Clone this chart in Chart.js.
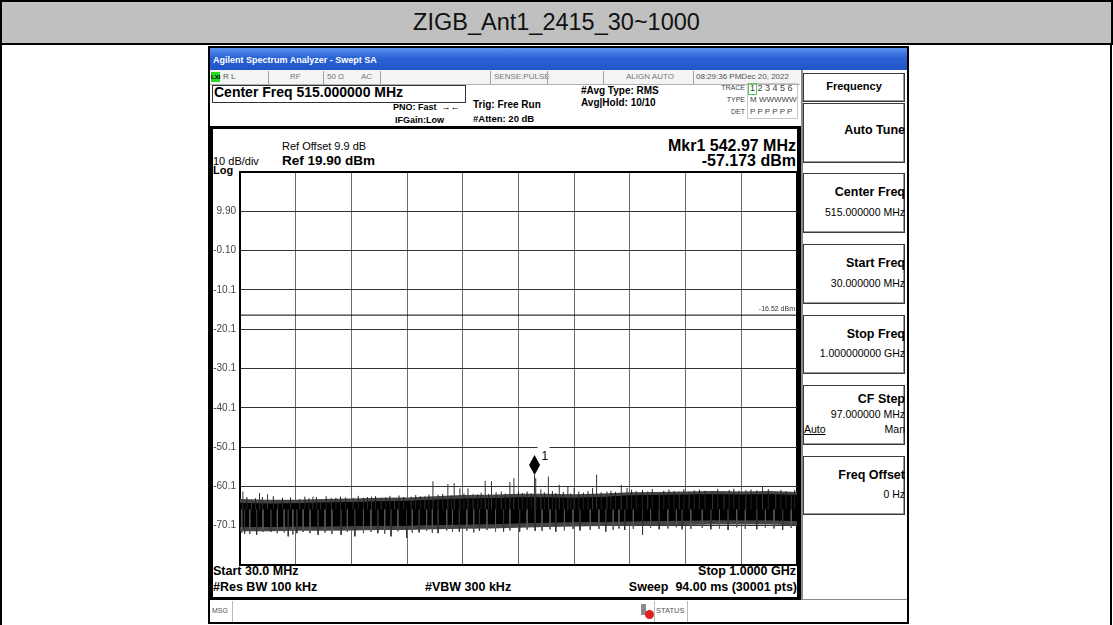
<!DOCTYPE html>
<html>
<head>
<meta charset="utf-8">
<script src="https://cdn.jsdelivr.net/npm/chart.js@4.4.0/dist/chart.umd.min.js"></script>
<style>
body{margin:0;width:1113px;height:625px;position:relative;background:#fff;overflow:hidden;font-family:"Liberation Sans",Arial,sans-serif;color:#000}
.a{position:absolute;white-space:pre;line-height:1.2}
.b{font-weight:bold}
.sep{position:absolute;top:71px;width:1px;height:13px;background:#a0a0a0}
.sk{position:absolute;left:803px;width:102px;box-sizing:border-box;border:1px solid #3a3a3a;background:#fff;box-shadow:inset -1px -1px 0 #9a9a9a}
#plotBox{position:absolute;left:200px;top:160px;width:600px;height:415px}
#plotBox canvas{display:block}
</style>
</head>
<body>
<!-- page frame + title -->
<div class="a" style="left:0;top:0;width:2px;height:625px;background:#000"></div>
<div class="a" style="left:1110px;top:0;width:2px;height:625px;background:#000"></div>
<div class="a" style="left:0;top:0;width:1113px;height:45px;box-sizing:border-box;border:2px solid #000;background:#c0c0c0;font-size:23.5px;line-height:41px;text-align:center;color:#111">ZIGB_Ant1_2415_30~1000</div>

<!-- analyzer screen frame -->
<div class="a" style="left:208px;top:46px;width:701px;height:578px;box-sizing:border-box;border:2px solid #000"></div>
<div class="a" style="left:210px;top:48px;width:697px;height:22px;background:linear-gradient(#5a92f0,#2a62d6 45%,#1f55c8)"></div>
<div class="a b" style="left:213px;top:55px;font-size:9px;color:#fff">Agilent Spectrum Analyzer - Swept SA</div>

<!-- status row -->
<div class="a" style="left:210px;top:70px;width:590px;height:14px;background:#f4f4f4;border-bottom:1px solid #b0b0b0"></div>
<div class="a b" style="left:211px;top:72px;width:9px;height:10px;background:#27d827;font-size:6px;line-height:10px;text-align:center">LXI</div>
<div class="a" style="left:223px;top:72px;font-size:8px;color:#555">R L</div>
<div class="sep" style="left:268px"></div>
<div class="a" style="left:290px;top:72px;font-size:8px;color:#777">RF</div>
<div class="sep" style="left:323px"></div>
<div class="a" style="left:327px;top:72px;font-size:8px;color:#777">50 Ω</div>
<div class="a" style="left:361px;top:72px;font-size:8px;color:#777">AC</div>
<div class="sep" style="left:380px"></div>
<div class="sep" style="left:490px"></div>
<div class="a" style="left:494px;top:72px;font-size:8px;color:#777">SENSE:PULSE</div>
<div class="sep" style="left:547px"></div>
<div class="sep" style="left:603px"></div>
<div class="a" style="left:626px;top:72px;font-size:8px;color:#777">ALIGN AUTO</div>
<div class="sep" style="left:693px"></div>
<div class="a" style="left:696px;top:72px;font-size:8px;color:#555">08:29:36 PMDec 20, 2022</div>

<!-- header info -->
<div class="a" style="left:212px;top:85px;width:254px;height:18px;box-sizing:border-box;border:1px solid #333"></div>
<div class="a b" style="left:214px;top:84px;font-size:14px">Center Freq 515.000000 MHz</div>
<div class="a b" style="left:393px;top:102px;font-size:9px">PNO: Fast  →←</div>
<div class="a b" style="left:395px;top:115px;font-size:9px">IFGain:Low</div>
<div class="a b" style="left:473px;top:99px;font-size:10px">Trig: Free Run</div>
<div class="a b" style="left:473px;top:113px;font-size:9.5px">#Atten: 20 dB</div>
<div class="a b" style="left:581px;top:85px;font-size:10px">#Avg Type: RMS</div>
<div class="a b" style="left:581px;top:97px;font-size:10px">Avg|Hold: 10/10</div>
<div class="a" style="right:368px;top:84px;font-size:7px;color:#444">TRACE</div>
<div class="a" style="right:368px;top:96px;font-size:7px;color:#444">TYPE</div>
<div class="a" style="right:368px;top:108px;font-size:7px;color:#444">DET</div>
<div class="a" style="left:747px;top:83px;width:51px;height:36px;box-sizing:border-box;border:1px solid #c8c8c8"></div>
<div class="a" style="left:748px;top:83px;width:9px;height:12px;box-sizing:border-box;border:1px solid #5cc85c"></div>
<div class="a" style="left:750px;top:83px;font-size:9px;color:#444">1 2 3 4 5 6</div>
<div class="a" style="left:750px;top:95px;font-size:8px;color:#444">M WWWWW</div>
<div class="a" style="left:750px;top:107px;font-size:8px;color:#444">P P P P P P</div>

<!-- display panel -->
<div class="a" style="left:210px;top:126px;width:591px;height:474px;box-sizing:border-box;border:3px solid #000;border-right-width:4px"></div>
<div class="a" style="left:282px;top:140px;font-size:11px">Ref Offset 9.9 dB</div>
<div class="a b" style="left:282px;top:153px;font-size:13.5px">Ref 19.90 dBm</div>
<div class="a" style="left:213px;top:155px;font-size:11px">10 dB/div</div>
<div class="a b" style="left:213px;top:164px;font-size:11px">Log</div>
<div class="a" style="right:317px;top:136px;font-size:16px;font-weight:600">Mkr1 542.97 MHz</div>
<div class="a" style="right:317px;top:151px;font-size:16px;font-weight:600">-57.173 dBm</div>
<div class="a b" style="left:213px;top:564px;font-size:12.5px">Start 30.0 MHz</div>
<div class="a b" style="left:213px;top:580px;font-size:12.5px">#Res BW 100 kHz</div>
<div class="a b" style="left:425px;top:580px;font-size:12.5px">#VBW 300 kHz</div>
<div class="a b" style="right:317px;top:564px;font-size:12.5px">Stop 1.0000 GHz</div>
<div class="a b" style="right:316px;top:580px;font-size:12.5px">Sweep  94.00 ms (30001 pts)</div>

<!-- message bar -->
<div class="a" style="left:232px;top:601px;width:1px;height:21px;background:#bbb"></div>
<div class="a" style="left:212px;top:607px;font-size:7px;color:#555">MSG</div>
<div class="a" style="left:641px;top:604px;width:5px;height:11px;background:#8a8a8a"></div>
<div class="a" style="left:645px;top:610px;width:9px;height:9px;border-radius:50%;background:#e02020"></div>
<div class="a" style="left:654px;top:601px;width:1px;height:21px;background:#bbb"></div>
<div class="a" style="left:656px;top:606px;font-size:7.5px;color:#555">STATUS</div>
<div class="a" style="left:687px;top:601px;width:1px;height:21px;background:#bbb"></div>

<!-- softkeys -->
<div class="a" style="left:801px;top:70px;width:2px;height:530px;background:#8a8a8a"></div>
<div class="sk" style="top:73px;height:29px"></div>
<div class="a b" style="left:803px;width:102px;text-align:center;top:80px;font-size:11px">Frequency</div>
<div class="sk" style="top:103px;height:60px"></div>
<div class="a b" style="right:208px;top:123px;font-size:12.5px">Auto Tune</div>
<div class="sk" style="top:173px;height:60px"></div>
<div class="a b" style="right:208px;top:185px;font-size:12.5px">Center Freq</div>
<div class="a" style="right:208px;top:206px;font-size:10.5px">515.000000 MHz</div>
<div class="sk" style="top:244px;height:60px"></div>
<div class="a b" style="right:208px;top:256px;font-size:12.5px">Start Freq</div>
<div class="a" style="right:208px;top:277px;font-size:10.5px">30.000000 MHz</div>
<div class="sk" style="top:315px;height:59px"></div>
<div class="a b" style="right:208px;top:327px;font-size:12.5px">Stop Freq</div>
<div class="a" style="right:208px;top:347px;font-size:10.5px">1.000000000 GHz</div>
<div class="sk" style="top:385px;height:60px"></div>
<div class="a b" style="right:208px;top:392px;font-size:12.5px">CF Step</div>
<div class="a" style="right:208px;top:408px;font-size:10.5px">97.000000 MHz</div>
<div class="a" style="left:804px;top:423px;font-size:10.5px;text-decoration:underline">Auto</div>
<div class="a" style="right:208px;top:423px;font-size:10.5px">Man</div>
<div class="sk" style="top:456px;height:59px"></div>
<div class="a b" style="right:208px;top:468px;font-size:12.5px">Freq Offset</div>
<div class="a" style="right:208px;top:488px;font-size:10.5px">0 Hz</div>
<div class="a" style="left:803px;top:599px;width:104px;height:1px;background:#8a8a8a"></div>

<div id="plotBox"><canvas id="spectrum" width="600" height="415"></canvas></div>

<script>
// sweep 30 MHz .. 1 GHz, 10 dB/div, ref 19.90 dBm
var xGrid = [30, 127, 224, 321, 418, 515, 612, 709, 806, 903, 1000];
var yGrid = [-80.1, -70.1, -60.1, -50.1, -40.1, -30.1, -20.1, -10.1, -0.1, 9.9, 19.9];
var yTickLabels = ['', '-70.1', '-60.1', '-50.1', '-40.1', '-30.1', '-20.1', '-10.1', '-0.10', '9.90', ''];

// noise floor (dBm)
var envFreq = [30, 78.5, 127, 175.5, 224, 272.5, 321, 369.5, 418, 466.5, 515, 563.5, 612, 660.5, 709, 757.5, 806, 854.5, 903, 951.5, 1000];
var coreTop = [-64.4, -64.6, -64.5, -64.3, -64.2, -64.0, -63.9, -63.6, -63.3, -63.2, -63.0, -63.0, -63.1, -62.9, -62.5, -62.4, -62.3, -62.2, -62.3, -62.2, -62.4];
var coreBottom = [-70.3, -70.3, -70.2, -70.2, -70.1, -70.0, -70.0, -69.8, -69.7, -69.6, -69.4, -69.2, -69.1, -69.0, -68.9, -68.8, -68.7, -68.6, -68.6, -68.6, -68.8];
var fringeTop = [-63.3, -63.5, -63.5, -63.3, -63.2, -63.0, -62.9, -62.6, -62.3, -62.2, -62.0, -62.0, -62.1, -61.9, -61.6, -61.5, -61.4, -61.3, -61.4, -61.3, -61.5];
var fringeBottom = [-71.5, -71.5, -71.4, -71.4, -71.3, -71.2, -71.2, -71.0, -70.9, -70.8, -70.6, -70.4, -70.3, -70.2, -70.1, -70.0, -69.9, -69.8, -69.8, -69.8, -70.0];

// single spikes sticking out of the floor
var spikeUpFreq = [35, 50, 64, 69, 78, 96, 134, 157, 170, 189, 227, 259, 276, 299, 328, 352, 366, 375, 392, 403, 413, 427, 436, 457, 468, 485, 500, 507, 542.97, 545, 554, 567, 586, 601, 612, 644, 651, 669, 694, 704, 740, 760, 795, 812, 853, 873, 911, 940, 963, 990];
var spikeUpLevel = [-61.4, -63.5, -61.8, -62.8, -62.1, -63.6, -63.3, -62.7, -63.6, -63.0, -63.0, -62.7, -63.0, -63.3, -62.7, -62.6, -58.8, -62.2, -59.5, -59.3, -60.6, -60.6, -62.0, -58.7, -58.8, -61.4, -59.0, -58.0, -57.17, -58.0, -60.8, -57.6, -59.7, -60.1, -60.5, -60.5, -57.1, -61.4, -59.7, -60.5, -61.4, -61.8, -61.4, -61.4, -61.4, -61.4, -61.0, -60.1, -61.8, -61.8];
var spikeDownFreq = [38, 59, 84, 114, 129, 166, 206, 230, 270, 293, 320, 342, 375, 412, 447, 489, 517, 544, 580, 622, 667, 700, 731, 760, 800, 850, 880, 930, 975];
var spikeDownLevel = [-72.1, -72.4, -71.6, -72.8, -72.0, -72.4, -72.4, -72.8, -72.0, -72.8, -73.2, -71.8, -72.0, -71.6, -71.4, -71.6, -71.6, -71.4, -71.6, -71.3, -71.6, -71.2, -72.4, -71.0, -71.0, -71.0, -71.2, -71.0, -71.2];

// short hairs along the edges of the floor
var hairUpFreq = [42, 57, 88, 104, 118, 143, 150, 163, 180, 197, 205, 214, 236, 245, 252, 266, 284, 291, 307, 315, 336, 344, 359, 383, 398, 420, 444, 450, 463, 476, 492, 515, 522, 530, 537, 560, 574, 580, 593, 606, 620, 628, 636, 659, 676, 684, 712, 720, 731, 748, 768, 777, 786, 803, 821, 830, 840, 862, 882, 890, 899, 920, 930, 950, 972, 981, 996];
var hairUpLevel = [-62.8, -63.1, -62.6, -63.0, -62.9, -62.7, -63.1, -62.8, -62.6, -63.0, -62.7, -62.9, -62.5, -63.0, -62.8, -62.6, -62.9, -62.5, -62.4, -62.8, -62.3, -62.6, -62.2, -62.0, -62.4, -61.9, -62.1, -61.7, -62.0, -61.6, -61.9, -61.5, -61.8, -61.4, -61.9, -61.6, -61.3, -61.8, -61.5, -61.9, -61.4, -61.7, -61.3, -61.6, -61.2, -61.5, -60.9, -61.3, -61.0, -60.8, -61.2, -60.9, -61.3, -60.8, -61.1, -60.9, -61.2, -60.8, -61.0, -60.7, -61.2, -60.9, -61.1, -60.8, -61.0, -61.3, -61.0];
var hairDownFreq = [33, 47, 70, 95, 107, 122, 140, 152, 178, 190, 217, 245, 258, 282, 305, 330, 355, 365, 390, 400, 425, 437, 460, 475, 500, 530, 556, 570, 595, 610, 640, 655, 680, 690, 715, 745, 775, 790, 815, 835, 865, 895, 910, 945, 960, 990];
var hairDownLevel = [-71.9, -72.2, -71.7, -72.0, -71.8, -72.3, -71.7, -72.0, -71.8, -72.2, -71.7, -72.0, -71.6, -72.1, -71.5, -71.8, -71.4, -71.9, -71.3, -71.7, -71.4, -71.8, -71.2, -71.6, -71.3, -71.1, -71.4, -71.0, -71.3, -70.9, -71.2, -70.9, -71.1, -70.8, -70.9, -70.6, -70.8, -70.5, -70.9, -70.6, -70.8, -70.5, -70.9, -70.6, -70.8, -70.7];

var displayLine = -16.52;
var markerFreq = 542.97;
var markerLevel = -57.173;

function pts(xs, ys) {
  return xs.map(function(x, i) { return {x: x, y: ys[i]}; });
}
function spikes(xs, ys, base) {
  var out = [];
  for (var i = 0; i < xs.length; i++) {
    out.push({x: xs[i], y: base}, {x: xs[i], y: ys[i]}, {x: xs[i], y: null});
  }
  return out;
}

var overlay = {
  id: 'overlay',
  afterDatasetsDraw: function(chart) {
    var ctx = chart.ctx, xs = chart.scales.x, ys = chart.scales.y, area = chart.chartArea;
    ctx.save();
    // display line label
    var dy = ys.getPixelForValue(displayLine);
    ctx.font = '7px "Liberation Sans", Arial';
    ctx.fillStyle = '#333';
    ctx.textAlign = 'right';
    ctx.fillText(displayLine.toFixed(2) + ' dBm', area.right - 2, dy - 4);
    // marker 1
    var px = xs.getPixelForValue(markerFreq), py = ys.getPixelForValue(markerLevel);
    ctx.fillStyle = '#fff';
    ctx.fillRect(px + 3, py - 32, 12, 17);
    ctx.fillStyle = '#000';
    ctx.beginPath();
    ctx.moveTo(px, py);
    ctx.lineTo(px + 5.5, py - 10);
    ctx.lineTo(px, py - 20);
    ctx.lineTo(px - 5.5, py - 10);
    ctx.closePath();
    ctx.fill();
    ctx.font = '12px "Liberation Sans", Arial';
    ctx.textAlign = 'left';
    ctx.fillText('1', px + 7, py - 15);
    ctx.restore();
  }
};

new Chart(document.getElementById('spectrum'), {
  type: 'line',
  data: {
    datasets: [
      {data: pts([30, 1000], [displayLine, displayLine]), borderColor: '#000', borderWidth: 1},
      {data: spikes(spikeUpFreq, spikeUpLevel, -66), borderColor: '#333', borderWidth: 1, spanGaps: false},
      {data: spikes(spikeDownFreq, spikeDownLevel, -66), borderColor: '#333', borderWidth: 1, spanGaps: false},
      {data: spikes(hairUpFreq, hairUpLevel, -66), borderColor: '#222', borderWidth: 1, spanGaps: false},
      {data: spikes(hairDownFreq, hairDownLevel, -66), borderColor: '#555', borderWidth: 1, spanGaps: false},
      {data: pts(envFreq, coreTop), borderColor: '#000', borderWidth: 1},
      {data: pts(envFreq, coreBottom), borderColor: '#000', borderWidth: 1, fill: '-1', backgroundColor: '#000'},
      {data: pts(envFreq, fringeTop), borderColor: '#444', borderWidth: 0},
      {data: pts(envFreq, fringeBottom), borderColor: '#444', borderWidth: 0, fill: '-1', backgroundColor: '#444'}
    ]
  },
  options: {
    responsive: false,
    animation: false,
    devicePixelRatio: 1,
    layout: {padding: {top: 12, right: 3, bottom: 2, left: 0}},
    elements: {point: {radius: 0}, line: {tension: 0}},
    plugins: {legend: {display: false}, tooltip: {enabled: false}},
    scales: {
      x: {
        type: 'linear', min: 30, max: 1000,
        afterBuildTicks: function(axis) { axis.ticks = xGrid.map(function(v) { return {value: v}; }); },
        afterFit: function(axis) { axis.height = 0; },
        ticks: {display: false},
        grid: {
          drawTicks: false,
          color: function(c) { return c.tick && c.tick.value === 1000 ? '#000' : '#6a6a6a'; },
          lineWidth: function(c) { return c.tick && c.tick.value === 1000 ? 3 : 1; }
        },
        border: {color: '#000', width: 2}
      },
      y: {
        min: -80.1, max: 19.9,
        afterBuildTicks: function(axis) { axis.ticks = yGrid.map(function(v) { return {value: v}; }); },
        afterFit: function(axis) { axis.width = 40; },
        ticks: {
          padding: 4,
          color: '#444',
          font: {family: '"Liberation Sans", Arial', size: 10},
          callback: function(v, i) { return yTickLabels[i]; }
        },
        grid: {
          drawTicks: false,
          color: function(c) { return c.tick && c.tick.value === 19.9 ? '#000' : '#333'; },
          lineWidth: function(c) { return c.tick && c.tick.value === 19.9 ? 2 : 1; }
        },
        border: {color: '#000', width: 2}
      }
    }
  },
  plugins: [overlay]
});
</script>
</body>
</html>
